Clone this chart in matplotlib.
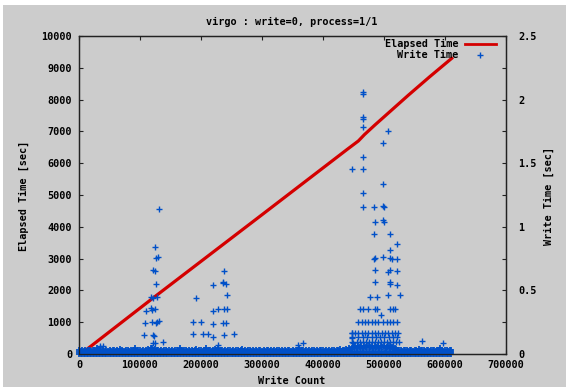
import numpy as np
import matplotlib
matplotlib.use("Agg")
import matplotlib.pyplot as plt
from matplotlib.patches import Rectangle
from matplotlib.ticker import MultipleLocator

# ---------------- data ----------------
# Elapsed time line (write count, elapsed seconds)
line_counts = [3000, 120000, 300000, 440000, 458000, 468000, 485000, 540000, 575000, 613000]
line_elapsed = [0, 1740, 4380, 6440, 6700, 6900, 7200, 8140, 8720, 9330]

# Dense band of small write times (sampled every 2500 writes from 0 to 610000)
band_step = 2500
band_times = [
    0.03, 0.02, 0.03, 0.025, 0.03, 0.02, 0.035, 0.03, 0.025, 0.03,
    0.03, 0.025, 0.045, 0.03, 0.02, 0.03, 0.035, 0.025, 0.03, 0.02,
    0.03, 0.025, 0.03, 0.035, 0.02, 0.03, 0.025, 0.04, 0.03, 0.025,
    0.02, 0.03, 0.035, 0.025, 0.03, 0.02, 0.03, 0.045, 0.025, 0.03,
    0.035, 0.025, 0.03, 0.02, 0.03, 0.04, 0.035, 0.05, 0.045, 0.03,
    0.04, 0.03, 0.035, 0.025, 0.03, 0.02, 0.035, 0.03, 0.025, 0.03,
    0.025, 0.03, 0.02, 0.035, 0.03, 0.025, 0.045, 0.03, 0.02, 0.03,
    0.03, 0.025, 0.035, 0.02, 0.03, 0.025, 0.03, 0.04, 0.025, 0.03,
    0.035, 0.025, 0.03, 0.045, 0.02, 0.03, 0.035, 0.025, 0.03, 0.04,
    0.03, 0.045, 0.025, 0.03, 0.035, 0.02, 0.03, 0.025, 0.035, 0.03,
    0.025, 0.03, 0.02, 0.035, 0.03, 0.025, 0.03, 0.04, 0.025, 0.03,
    0.02, 0.03, 0.035, 0.025, 0.03, 0.02, 0.03, 0.025, 0.035, 0.03,
    0.025, 0.03, 0.02, 0.03, 0.035, 0.025, 0.03, 0.02, 0.03, 0.025,
    0.03, 0.035, 0.025, 0.03, 0.02, 0.03, 0.025, 0.035, 0.03, 0.025,
    0.03, 0.02, 0.035, 0.03, 0.045, 0.025, 0.03, 0.035, 0.025, 0.03,
    0.025, 0.03, 0.02, 0.03, 0.035, 0.025, 0.03, 0.02, 0.03, 0.035,
    0.03, 0.025, 0.035, 0.02, 0.03, 0.025, 0.03, 0.035, 0.025, 0.03,
    0.03, 0.04, 0.025, 0.035, 0.03, 0.04, 0.035, 0.045, 0.04, 0.05,
    0.055, 0.06, 0.05, 0.06, 0.055, 0.06, 0.05, 0.06, 0.055, 0.06,
    0.06, 0.055, 0.06, 0.05, 0.06, 0.055, 0.06, 0.05, 0.06, 0.055,
    0.06, 0.05, 0.055, 0.06, 0.05, 0.055, 0.05, 0.045, 0.04, 0.035,
    0.03, 0.035, 0.025, 0.03, 0.035, 0.03, 0.025, 0.035, 0.03, 0.025,
    0.03, 0.035, 0.025, 0.04, 0.03, 0.035, 0.03, 0.025, 0.035, 0.03,
    0.025, 0.03, 0.035, 0.03, 0.025, 0.03, 0.035, 0.045, 0.03, 0.025,
    0.03, 0.035, 0.025, 0.03, 0.03,
]
# lower layers of the dense band
band_floor_time = 0.0
band_mid_time = 0.012

# Outlier write times (write count, seconds)
spike_counts = [
    # cluster near 120000
    131100, 124600, 130000, 125700, 121800, 124000, 126200, 117500, 128400, 121800,
    117500, 124600, 119000, 109800, 131600, 119200, 126200, 108200, 128000, 106600,
    120800, 123000, 121800, 138200, 124500,
    # cluster near 220000
    191800, 187400, 199500, 187400, 202700, 212000, 219200, 219200, 219200, 219200,
    227400, 237700, 235600, 241000, 243100, 237700, 242100, 236600, 241000, 237700,
    254100, 228400, 236600,
    # isolated
    39800, 34400, 359000, 366700, 561800, 597200, 447000, 447000, 449700,
    # cluster near 480000 (upper part)
    466000, 466000, 466000, 466000, 466000, 507000, 497800, 466000, 448000, 466000,
    498800, 466000, 466000, 483600, 498800, 500000, 485200, 498800, 500000, 483600,
    509800, 521800, 509800, 485200, 483600, 498800, 509800, 512600, 521800, 485200,
    509800, 507100, 521800, 485200, 509800, 509800, 521800, 477000, 489000, 507000,
    526200, 494600,
]
spike_times = [
    1.14, 0.844, 0.765, 0.752, 0.66, 0.655, 0.55, 0.45, 0.45, 0.438,
    0.36, 0.35, 0.345, 0.338, 0.26, 0.25, 0.246, 0.241, 0.255, 0.149,
    0.149, 0.144, 0.084, 0.097, 0.09,
    0.443, 0.254, 0.254, 0.157, 0.155, 0.155, 0.136, 0.542, 0.338, 0.233,
    0.354, 0.653, 0.568, 0.55, 0.464, 0.351, 0.351, 0.246, 0.246, 0.147,
    0.155, 0.071, 0.56,
    0.065, 0.06, 0.07, 0.084, 0.1, 0.084, 0.163, 0.123, 0.084,
    2.062, 2.045, 1.866, 1.848, 1.782, 1.756, 1.657, 1.551, 1.457, 1.452,
    1.337, 1.263, 1.156, 1.156, 1.164, 1.153, 1.04, 1.053, 1.04, 0.941,
    0.941, 0.862, 0.818, 0.752, 0.744, 0.765, 0.752, 0.744, 0.744, 0.66,
    0.66, 0.647, 0.653, 0.568, 0.568, 0.55, 0.542, 0.45, 0.45, 0.464,
    0.464, 0.307,
]

# Dense rows inside the 450000-525000 cluster
row351_counts = [460600, 466000, 474300, 485200, 488000, 509800, 515300, 518000]
row351_time = 0.351
row254_counts = [457900, 463400, 468900, 474300, 479800, 485200, 490700, 498800,
                 504400, 509800, 515300, 521800]
row254_time = 0.254
row165_counts = [447000, 453000, 457900, 463400, 468900, 474300, 479800, 485200,
                 490700, 496200, 501600, 507100, 512600, 518000, 523000]
row165_time = 0.165
row135_counts = [447000, 458000, 466000, 472000, 480000, 487000, 494000, 500000,
                 508000, 515000, 521000]
row135_time = 0.135
row095_counts = [447000, 455000, 460000, 465000, 470000, 475000, 480000, 485000,
                 490000, 495000, 500000, 505000, 510000, 515000, 520000, 525000]
row095_time = 0.095

x_ticks = [0, 100000, 200000, 300000, 400000, 500000, 600000, 700000]
y1_ticks = list(range(0, 10001, 1000))
y2_ticks = [0, 0.5, 1, 1.5, 2, 2.5]
y2_labels = ["0", "0.5", "1", "1.5", "2", "2.5"]

# ---------------- style ----------------
W, H = 567, 387
BG = "#cccccc"
RED = "#d40000"
BLUE = "#0050c8"
FONT = dict(family="DejaVu Sans Mono", weight="bold", size=7.3)

fig = plt.figure(figsize=(W / 100, H / 100), dpi=100, facecolor="white")
fig.patches.append(Rectangle((3 / W, 0), (566 - 3) / W, (H - 5) / H,
                             transform=fig.transFigure, facecolor=BG,
                             edgecolor="none", zorder=-10))

L, R, T, B = 79, 506, 36, 354
ax = fig.add_axes([L / W, 1 - B / H, (R - L) / W, (B - T) / H])
ax.set_facecolor(BG)
ax2 = ax.twinx()

ax.set_xlim(0, 700000)
ax.set_ylim(0, 10000)
ax2.set_ylim(0, 2.5)

# elapsed time line
ax.plot(line_counts, line_elapsed, color=RED, lw=2.3, solid_capstyle="butt")

mk = dict(linestyle="none", marker="+", ms=5.0, mew=1.0, color=BLUE)
band_mk = dict(mk, mew=1.3)
band_counts = np.arange(len(band_times)) * band_step
n = len(band_counts)
ax2.plot(band_counts, np.full(n, band_floor_time), clip_on=False, **band_mk)
ax2.plot(band_counts, np.full(n, band_mid_time), clip_on=False, **band_mk)
ax2.plot(band_counts, band_times, clip_on=False, **band_mk)
for cnts, t in [(row351_counts, row351_time), (row254_counts, row254_time),
                (row165_counts, row165_time), (row135_counts, row135_time),
                (row095_counts, row095_time)]:
    ax2.plot(cnts, [t] * len(cnts), **mk)
ax2.plot(spike_counts, spike_times, **mk)

# axes, ticks
for a in (ax, ax2):
    for s in a.spines.values():
        s.set_color("#222222")
        s.set_linewidth(0.9)

ax.set_xticks(x_ticks)
ax.set_xticklabels([str(v) for v in x_ticks])
ax.set_yticks(y1_ticks)
ax.set_yticklabels([str(v) for v in y1_ticks])
ax.tick_params(axis="x", direction="in", length=3, width=0.8, top=True,
               pad=4, color="#222222")
ax.tick_params(axis="y", direction="in", length=3, width=0.8, right=False,
               pad=5, color="#222222")
ax2.set_yticks(y2_ticks)
ax2.set_yticklabels(y2_labels)
ax2.yaxis.set_minor_locator(MultipleLocator(0.25))
ax2.tick_params(axis="y", which="both", direction="in", length=3, width=0.8,
                pad=9, color="#222222")
for lab in ax.get_xticklabels() + ax.get_yticklabels() + ax2.get_yticklabels():
    lab.set_fontfamily(FONT["family"])
    lab.set_fontweight(FONT["weight"])
    lab.set_fontsize(FONT["size"])

# texts
fig.text(292 / W, 1 - 22 / H, "virgo : write=0, process=1/1", ha="center", va="center", **FONT)
fig.text(24 / W, 1 - 196 / H, "Elapsed Time [sec]", ha="center", va="center", rotation=90, **FONT)
fig.text(549 / W, 1 - 196 / H, "Write Time [sec]", ha="center", va="center", rotation=90, **FONT)
fig.text(292 / W, 1 - 381 / H, "Write Count", ha="center", va="center", **FONT)

# legend (gnuplot style, right-aligned labels)
ly1, ly2 = (B - 44) / (B - T), (B - 54.7) / (B - T)
ax.text(0.8876, ly1, "Elapsed Time", transform=ax.transAxes, ha="right", va="center", **FONT)
ax.text(0.8876, ly2, "Write Time", transform=ax.transAxes, ha="right", va="center", **FONT)
ax.plot([0.904, 0.977], [ly1, ly1], transform=ax.transAxes, color=RED, lw=2.0, clip_on=False)
ax2.plot([0.939], [ly2], transform=ax.transAxes, **mk)

fig.savefig("out.png", dpi=100, facecolor=fig.get_facecolor())
